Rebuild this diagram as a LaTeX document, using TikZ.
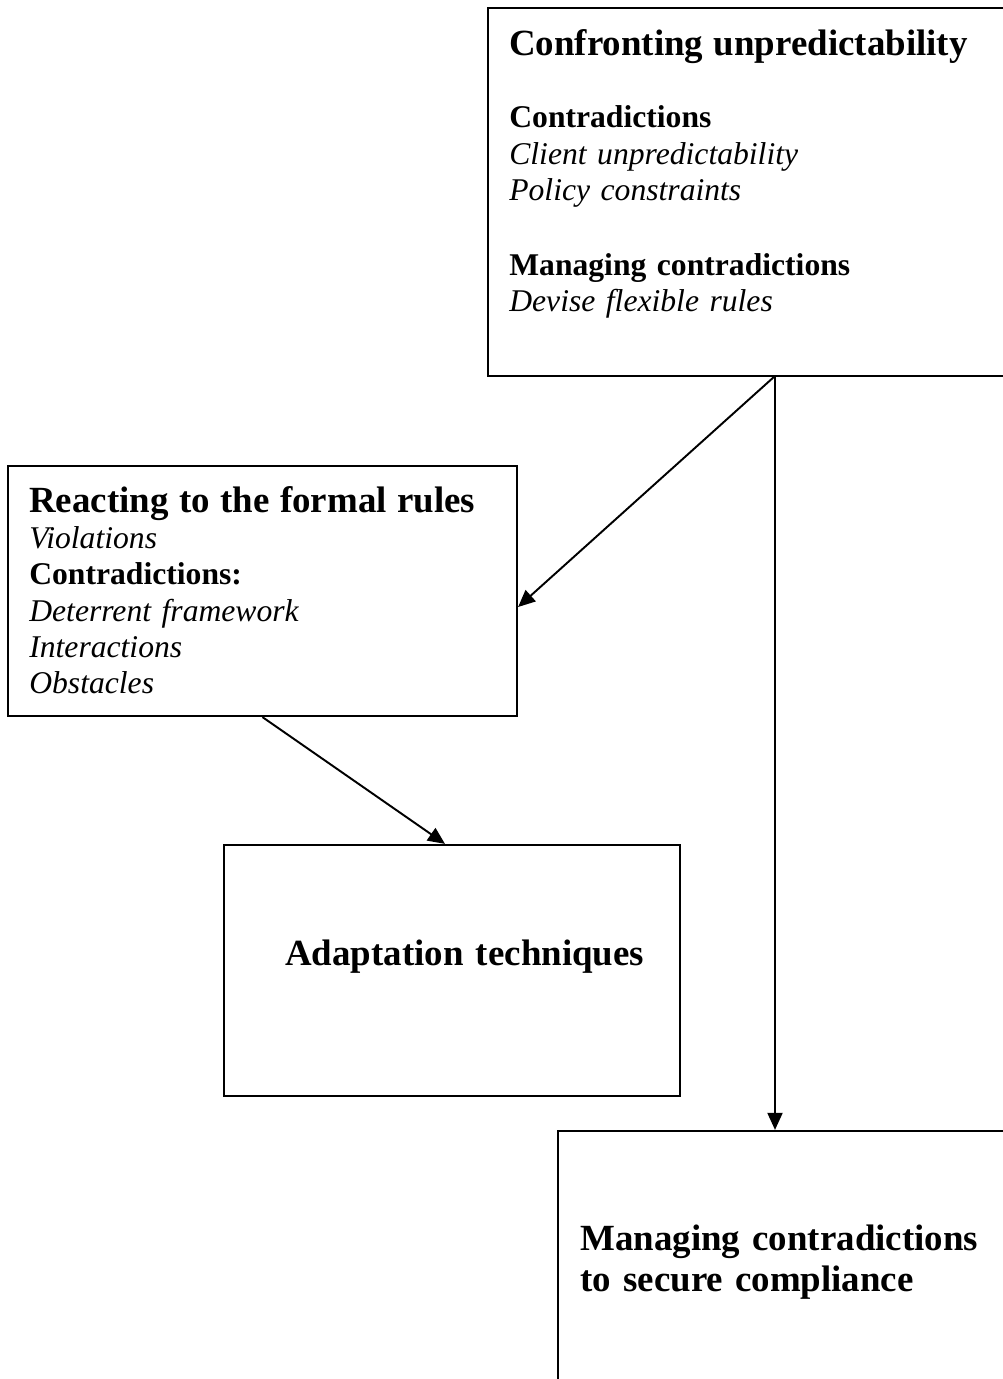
\documentclass[tikz,border=0pt]{standalone}
\usepackage{fontspec}
\setmainfont{Liberation Serif}
\usetikzlibrary{arrows.meta}
\usetikzlibrary{positioning}
\usetikzlibrary{calc}

\newcommand{\headfont}{\fontsize{21}{23.8}\selectfont\bfseries}
\newcommand{\bodyfont}{\fontsize{18}{20.7}\selectfont}

\tikzset{
	box/.style={draw, rectangle, line width=1.3pt, inner sep=0pt},
	txt/.style={anchor=base west, inner sep=0pt, align=left, text width=9.5cm, font=\bodyfont},
	arr/.style={line width=1.1pt, -{Triangle[length=0.34cm,width=0.3cm]}}
}

\begin{document}
\begin{tikzpicture}[x=0.02cm, y=-0.02cm]
	\useasboundingbox (0,0) rectangle (1003,1379);
	\clip (0,0) rectangle (1003,1379);

	\node[box, minimum width=10.48cm, minimum height=7.36cm] (confront) at (750,192) {};
	\node[box, minimum width=10.18cm, minimum height=5cm] (react) at (262.5,591) {};
	\node[box, minimum width=9.12cm, minimum height=5.02cm] (adapt) at (452,970.5) {};
	\node[box, minimum width=9.08cm, minimum height=5.22cm] (comply) at (785,1261.5) {};

	\node[txt] (confrontTxt) at (509,55) {{\headfont Confronting unpredictability}\\[\baselineskip]
		\textbf{Contradictions}\\
		\textit{Client unpredictability}\\
		\textit{Policy constraints}\\[22pt]
		\textbf{Managing contradictions}\\
		\textit{Devise flexible rules}};
	\node[txt] (reactTxt) at (29,512) {{\headfont Reacting to the formal rules}\\
		\textit{Violations}\\
		\textbf{Contradictions:}\\
		\textit{Deterrent framework}\\
		\textit{Interactions}\\
		\textit{Obstacles}};
	\node[txt, font=\headfont] (adaptTxt) at (285,965) {Adaptation techniques};
	\node[txt, font=\headfont] (complyTxt) at (580,1250) {Managing contradictions\\
		to secure compliance};

	\coordinate (split) at (775,376);
	\draw[arr] (split) -- ([yshift=-0.32cm]react.east);
	\draw[arr] (split) -- (split |- comply.north);
	\draw[arr] (react.south) -- ([xshift=-0.14cm]adapt.north);
\end{tikzpicture}
\end{document}
